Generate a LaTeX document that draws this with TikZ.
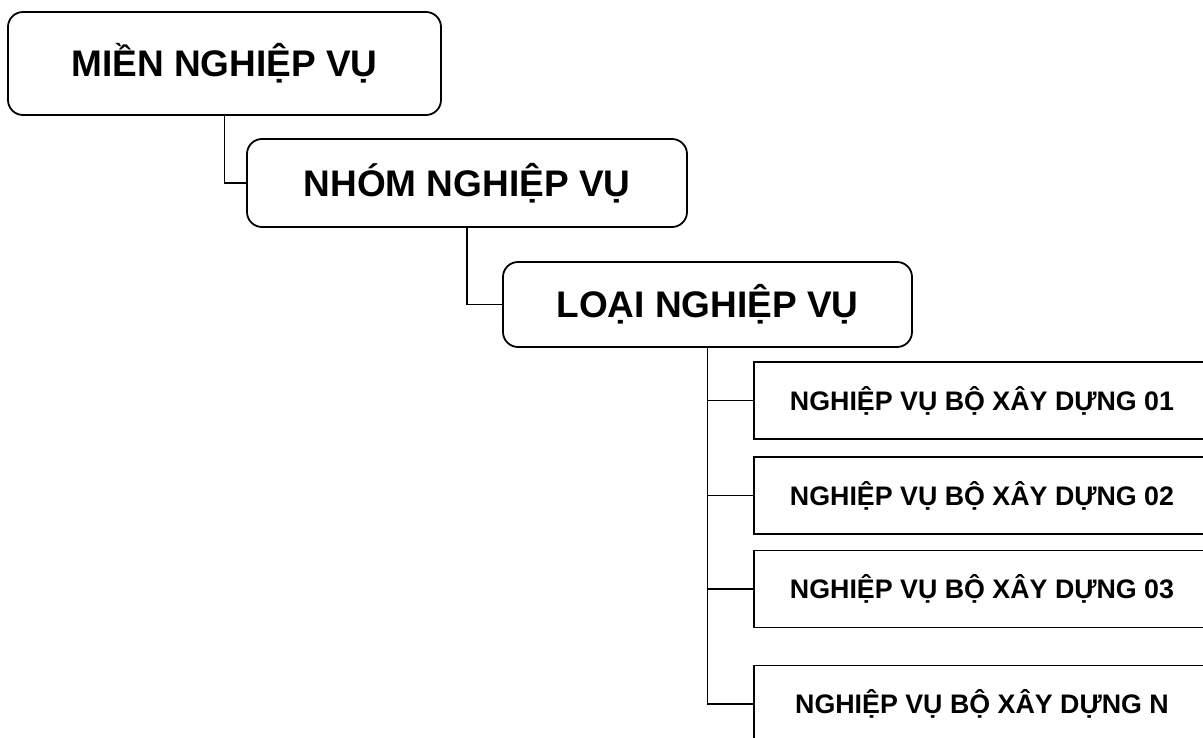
\documentclass[tikz,border=0pt]{standalone}
\usepackage{fontspec}
\setmainfont{Liberation Sans}
\usetikzlibrary{positioning}
\tikzset{
  level/.style={
    draw,
    line width=1.8pt,
    rounded corners=15pt,
    inner sep=0pt,
    font=\bfseries\fontsize{37}{44}\selectfont
  },
  leaf/.style={
    draw,
    line width=1.8pt,
    inner sep=0pt,
    minimum width=456pt,
    minimum height=77pt,
    font=\bfseries\fontsize{26.8}{32}\selectfont
  },
  link/.style={
    line width=1.8pt
  },
}
\begin{document}
\begin{tikzpicture}[x=1pt,y=-1pt]
  \useasboundingbox (0,0) rectangle (1203,738);
  \clip (0,0) rectangle (1203,738);
  \node[level,minimum width=433pt,minimum height=103pt] (mien) at (224.5,63.5) {MIỀN NGHIỆP VỤ};
  \node[level,minimum width=440pt,minimum height=88pt] (nhom) at (467,183) {NHÓM NGHIỆP VỤ};
  \node[level,minimum width=409pt,minimum height=85pt] (loai) at (707.5,304.5) {LOẠI NGHIỆP VỤ};
  \foreach \name/\y/\txt in {b1/400.5/01, b2/495.5/02, b3/589/03, bn/704/N}{
    \node[leaf] (\name) at (982,\y) {NGHIỆP VỤ BỘ XÂY DỰNG \txt};
    \draw[link] (loai.south) |- (\name.west);
  }
  \draw[link] (mien.south) |- (nhom.west);
  \draw[link] (nhom.south) |- (loai.west);
\end{tikzpicture}
\end{document}
